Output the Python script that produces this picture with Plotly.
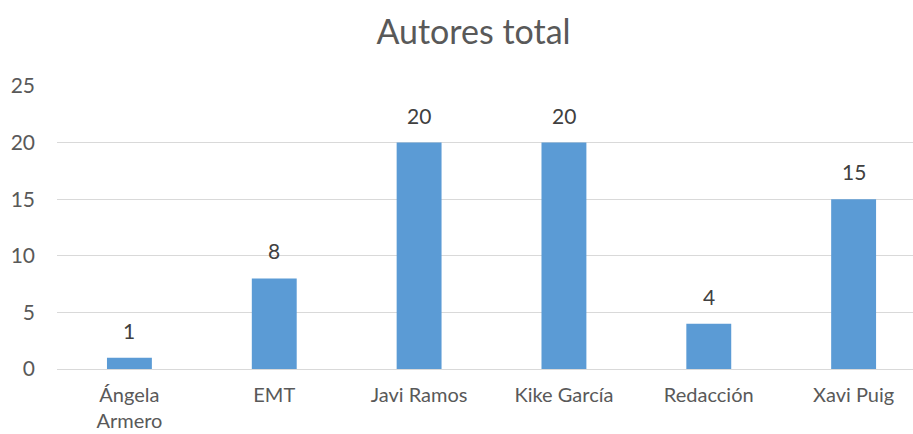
import plotly.graph_objects as go

categories = ["Ángela<br>Armero", "EMT", "Javi Ramos", "Kike García", "Redacción", "Xavi Puig"]
values = [1, 8, 20, 20, 4, 15]
y_ticks = [0, 5, 10, 15, 20, 25]

FONT = "Lato, Open Sans, sans-serif"

fig = go.Figure()
fig.add_trace(go.Bar(
    x=list(range(len(categories))), y=values,
    marker=dict(color="#5B9BD5", line=dict(width=0)),
    width=0.31,
))

for i, v in enumerate(values):
    fig.add_annotation(x=i, y=v, text=str(v), showarrow=False,
                       yanchor="bottom", yshift=13,
                       font=dict(family=FONT, size=21, color="#404040"))

fig.update_layout(
    width=913, height=434,
    margin=dict(l=57, r=0, t=86, b=65),
    paper_bgcolor="white", plot_bgcolor="white",
    showlegend=False,
    title=dict(text="Autores total", x=473.5/913, xref="container", xanchor="center",
               y=1-32/434, yref="container", yanchor="middle",
               font=dict(family=FONT, size=34, color="#595959")),
    xaxis=dict(
        range=[-0.5, 5.41],
        tickmode="array", tickvals=list(range(len(categories))), ticktext=categories,
        showgrid=False, showline=False, zeroline=False, ticks="",
        tickfont=dict(family=FONT, size=20, color="#595959"),
        ticklabelstandoff=12, automargin=False,
    ),
    yaxis=dict(
        range=[0, 25], tickmode="array", tickvals=y_ticks,
        showgrid=True, gridcolor="#D9D9D9", gridwidth=1,
        zeroline=True, zerolinecolor="#D9D9D9", zerolinewidth=1,
        showline=False, ticks="",
        tickfont=dict(family=FONT, size=21, color="#595959"),
        ticklabelstandoff=21, automargin=False,
    ),
    font=dict(family=FONT),
)

fig.write_html("out.html", config={"displayModeBar": False},
               post_script="document.body.style.margin='0px';document.body.style.overflow='hidden';")
